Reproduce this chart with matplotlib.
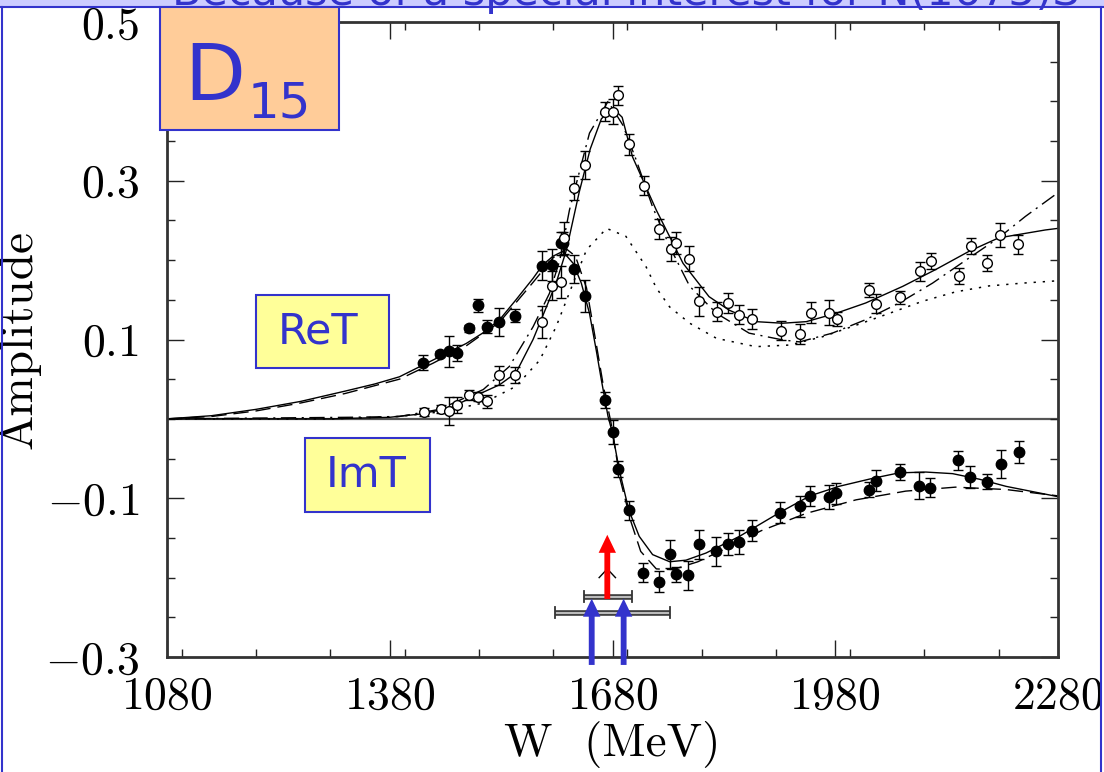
import matplotlib.pyplot as plt
from matplotlib.patches import Rectangle, FancyArrowPatch
from matplotlib.lines import Line2D
from matplotlib.ticker import MultipleLocator, FixedLocator

plt.rcParams['font.family'] = 'cmr10'
plt.rcParams['mathtext.fontset'] = 'cm'
plt.rcParams['axes.formatter.use_mathtext'] = True

# filled circles
w_filled = [1425, 1448, 1460, 1470, 1487, 1499, 1511, 1527, 1549, 1585, 1599, 1611, 1614,
            1628, 1643, 1670, 1680, 1688, 1702, 1721, 1742, 1758, 1765, 1782, 1796, 1820,
            1835, 1851, 1868, 1906, 1932, 1946, 1972, 1981, 2026, 2035, 2067, 2093, 2108,
            2145, 2162, 2185, 2203, 2227]
amp_filled = [0.071, 0.082, 0.085, 0.083, 0.114, 0.143, 0.116, 0.122, 0.130, 0.193, 0.194,
              0.221, 0.221, 0.189, 0.155, 0.024, -0.017, -0.063, -0.115, -0.194, -0.205,
              -0.170, -0.196, -0.197, -0.158, -0.167, -0.158, -0.155, -0.141, -0.118, -0.110,
              -0.097, -0.098, -0.094, -0.089, -0.078, -0.067, -0.084, -0.087, -0.052, -0.073,
              -0.079, -0.057, -0.042]
err_filled = [0.010, 0.004, 0.020, 0.010, 0.004, 0.008, 0.008, 0.018, 0.008, 0.018, 0.020,
              0.015, 0.015, 0.018, 0.020, 0.010, 0.015, 0.010, 0.012, 0.012, 0.013, 0.018,
              0.010, 0.018, 0.018, 0.018, 0.014, 0.015, 0.013, 0.013, 0.013, 0.013, 0.015,
              0.013, 0.009, 0.013, 0.010, 0.017, 0.012, 0.012, 0.014, 0.009, 0.018, 0.014]

# open circles
w_open = [1426, 1449, 1460, 1471, 1487, 1499, 1511, 1527, 1549, 1585, 1599, 1611, 1615,
          1628, 1643, 1670, 1681, 1688, 1702, 1722, 1742, 1759, 1765, 1783, 1796, 1821,
          1836, 1851, 1868, 1907, 1932, 1947, 1972, 1982, 2026, 2035, 2067, 2094, 2109,
          2146, 2163, 2185, 2202, 2226]
amp_open = [0.009, 0.012, 0.010, 0.018, 0.030, 0.028, 0.022, 0.055, 0.055, 0.122, 0.168,
            0.172, 0.228, 0.291, 0.320, 0.387, 0.387, 0.408, 0.346, 0.294, 0.239, 0.214,
            0.222, 0.202, 0.148, 0.135, 0.146, 0.131, 0.126, 0.111, 0.107, 0.134, 0.134,
            0.126, 0.162, 0.145, 0.153, 0.186, 0.199, 0.180, 0.218, 0.196, 0.232, 0.220]
err_open = [0.005, 0.005, 0.018, 0.010, 0.006, 0.006, 0.008, 0.012, 0.010, 0.020, 0.018,
            0.020, 0.020, 0.015, 0.018, 0.012, 0.016, 0.012, 0.013, 0.012, 0.013, 0.015,
            0.014, 0.016, 0.018, 0.012, 0.012, 0.012, 0.013, 0.012, 0.013, 0.013, 0.016,
            0.009, 0.009, 0.012, 0.008, 0.012, 0.010, 0.010, 0.010, 0.010, 0.015, 0.012]

# model curves
w_fit_a1 = [1080, 1140, 1200, 1260, 1320, 1360, 1393, 1438, 1483, 1505, 1528, 1550, 1573,
            1586, 1600, 1613, 1627, 1638, 1649, 1658, 1665, 1674, 1680, 1689, 1702, 1716,
            1734, 1757, 1779, 1806, 1851, 1907, 1946, 1985, 2030, 2066, 2102, 2138, 2174,
            2210, 2280]
fit_a1 = [0.0, 0.004, 0.012, 0.022, 0.035, 0.044, 0.053, 0.074, 0.095, 0.108, 0.125, 0.150,
          0.177, 0.194, 0.205, 0.211, 0.196, 0.171, 0.133, 0.087, 0.049, 0.003, -0.018,
          -0.064, -0.115, -0.148, -0.171, -0.180, -0.178, -0.169, -0.148, -0.117, -0.097,
          -0.085, -0.075, -0.068, -0.067, -0.069, -0.076, -0.085, -0.098]

w_fit_a2 = [1080, 1140, 1200, 1260, 1320, 1393, 1438, 1483, 1528, 1573, 1600, 1618, 1630,
            1645, 1658, 1668, 1678, 1690, 1705, 1718, 1739, 1761, 1795, 1840, 1880, 1941,
            2008, 2075, 2142, 2210, 2280]
fit_a2 = [0.0, 0.003, 0.010, 0.020, 0.032, 0.050, 0.070, 0.092, 0.122, 0.172, 0.203, 0.214,
          0.205, 0.165, 0.095, 0.040, -0.005, -0.075, -0.130, -0.167, -0.189, -0.190, -0.180,
          -0.160, -0.141, -0.119, -0.102, -0.091, -0.086, -0.089, -0.097]

w_fit_b1 = [1080, 1300, 1380, 1420, 1461, 1488, 1528, 1550, 1573, 1591, 1604, 1618, 1635,
            1650, 1665, 1680, 1693, 1707, 1739, 1775, 1810, 1837, 1873, 1909, 1941, 1981,
            2021, 2071, 2115, 2160, 2200, 2263, 2280]
fit_b1 = [0.0, 0.0, 0.002, 0.006, 0.0135, 0.026, 0.043, 0.058, 0.100, 0.141, 0.171, 0.213,
          0.285, 0.340, 0.378, 0.392, 0.380, 0.330, 0.263, 0.196, 0.154, 0.137, 0.1225,
          0.1205, 0.1225, 0.133, 0.146, 0.167, 0.188, 0.211, 0.228, 0.238, 0.240]

w_fit_b2 = [1080, 1326, 1393, 1447, 1506, 1541, 1573, 1595, 1609, 1622, 1649, 1674, 1694,
            1712, 1734, 1757, 1784, 1820, 1864, 1909, 1932, 1976, 2021, 2066, 2111, 2156,
            2200, 2236, 2280]
fit_b2 = [0.0, 0.002, 0.003, 0.012, 0.037, 0.066, 0.116, 0.158, 0.200, 0.263, 0.360, 0.400,
          0.370, 0.326, 0.267, 0.217, 0.167, 0.133, 0.108, 0.0995, 0.097, 0.108, 0.125,
          0.146, 0.171, 0.200, 0.228, 0.255, 0.285]

w_fit_b3 = [1080, 1300, 1393, 1450, 1506, 1550, 1582, 1604, 1627, 1645, 1672, 1698, 1725,
            1739, 1757, 1784, 1820, 1873, 1918, 1963, 2008, 2053, 2097, 2142, 2187, 2232,
            2280]
fit_b3 = [0.0, 0.0, 0.003, 0.009, 0.020, 0.041, 0.074, 0.116, 0.171, 0.213, 0.240, 0.230,
          0.192, 0.165, 0.141, 0.1205, 0.1015, 0.091, 0.093, 0.1035, 0.118, 0.133, 0.148,
          0.160, 0.1675, 0.171, 0.174]

# resonance markers (W ranges and arrow positions)
band_upper = (1642, 1706, -0.224)
band_lower = (1603, 1757, -0.244)
red_arrow_w = 1673
blue_arrow_w = [1652, 1695]

W, H = 1104, 772


def fig_xy(x, y):
    return x / W, 1 - y / H


fig = plt.figure(figsize=(W / 100, H / 100), dpi=100)
ax = fig.add_axes([167 / W, (H - 657) / H, (1058 - 167) / W, (657 - 22) / H])

ax.plot(w_fit_a1, fit_a1, color='k', lw=1.0, zorder=2)
ax.plot(w_fit_a2, fit_a2, color='k', lw=1.0, dashes=(11, 5), zorder=2)
ax.plot(w_fit_b1, fit_b1, color='k', lw=1.0, zorder=2)
ax.plot(w_fit_b2, fit_b2, color='k', lw=1.0, dashes=(11, 4, 1.5, 4), zorder=2)
ax.plot(w_fit_b3, fit_b3, color='k', lw=1.1, dashes=(1.5, 4.5), zorder=2)
ax.axhline(0, color='#555555', lw=1.6, zorder=1)

ax.errorbar(w_filled, amp_filled, yerr=err_filled, fmt='o', color='k', ms=7.5,
            capsize=3.5, elinewidth=1.0, capthick=1.0, zorder=4)
ax.errorbar(w_open, amp_open, yerr=err_open, fmt='o', color='k', mfc='white', mec='k',
            ms=7.0, mew=1.0, capsize=3.5, elinewidth=1.0, capthick=1.0, zorder=4)

ax.set_xlim(1080, 2280)
ax.set_ylim(-0.3, 0.5)
ax.xaxis.set_major_locator(FixedLocator([1080, 1380, 1680, 1980, 2280]))
ax.xaxis.set_minor_locator(MultipleLocator(100))
ax.yaxis.set_major_locator(FixedLocator([-0.3, -0.1, 0.1, 0.3, 0.5]))
ax.yaxis.set_minor_locator(MultipleLocator(0.05))
ax.tick_params(which='both', direction='in', top=True, right=True, width=1.0,
               labelsize=33, color='#222222')
ax.tick_params(which='major', length=12)
ax.tick_params(which='minor', length=6)
ax.tick_params(axis='y', pad=20)
ax.tick_params(axis='x', pad=14)
for sp in ax.spines.values():
    sp.set_linewidth(2.0)
    sp.set_color('#333333')

ax.set_xlabel('W  (MeV)', fontsize=34, labelpad=2)
ax.set_ylabel('Amplitude', fontsize=34, labelpad=3)

# resonance position bars and arrows
for lo, hi, yv in (band_upper, band_lower):
    ax.plot([lo, hi], [yv, yv], color='#333333', lw=4.0, solid_capstyle='butt',
            clip_on=False, zorder=6)
    ax.plot([lo, hi], [yv, yv], color='#bbbbbb', lw=1.6, solid_capstyle='butt',
            clip_on=False, zorder=6)
    for xe in (lo, hi):
        ax.plot([xe, xe], [yv - 0.007, yv + 0.007], color='#333333', lw=1.3,
                clip_on=False, zorder=6)

ax.plot([red_arrow_w - 11, red_arrow_w, red_arrow_w + 11], [-0.200, -0.189, -0.200],
        color='k', lw=1.0, zorder=6)
ax.add_patch(FancyArrowPatch((red_arrow_w, band_upper[2] - 0.003), (red_arrow_w, -0.146),
                             arrowstyle='simple,head_length=1.3,head_width=1.25,tail_width=0.42',
                             mutation_scale=10, color='#ff0000', lw=0, shrinkA=0, shrinkB=0,
                             clip_on=False, zorder=7))
for bw in blue_arrow_w:
    ax.add_patch(FancyArrowPatch((bw, -0.31), (bw, -0.2265),
                                 arrowstyle='simple,head_length=1.3,head_width=1.25,tail_width=0.42',
                                 mutation_scale=10, color='#3333cc', lw=0, shrinkA=0,
                                 shrinkB=0, clip_on=False, zorder=7))

# slide decorations
fig.add_artist(Rectangle((0, 1 - 7 / H), 1, 7 / H, transform=fig.transFigure,
                         fc='#ccccff', ec='none', zorder=8))
fig.add_artist(Line2D([0, 1], [1 - 7 / H] * 2, transform=fig.transFigure,
                      color='#3333cc', lw=1.5, zorder=9))
fig.add_artist(Line2D([1.5 / W, 1.5 / W], [0, 1 - 7 / H], transform=fig.transFigure,
                      color='#3333cc', lw=1.5, zorder=9))
fig.add_artist(Line2D([1101 / W, 1101 / W], [0, 1 - 7 / H], transform=fig.transFigure,
                      color='#3333cc', lw=1.5, zorder=9))
fig.text(*fig_xy(172, 5), 'Because of a special interest for N(1675)S',
         family='DejaVu Sans', fontsize=31, color='#3333cc', va='baseline', zorder=10)


def note_box(x0, y0, x1, y1, face):
    fig.add_artist(Rectangle(fig_xy(x0, y1), (x1 - x0) / W, (y1 - y0) / H,
                             transform=fig.transFigure, fc=face, ec='#3333cc', lw=1.5,
                             zorder=10))


note_box(160, 7, 339, 130, '#ffcc99')
fig.text(*fig_xy(184, 100), 'D', family='DejaVu Sans', fontsize=57, color='#3333cc',
         va='baseline', zorder=11)
fig.text(*fig_xy(248, 118), '15', family='DejaVu Sans', fontsize=36, color='#3333cc',
         va='baseline', zorder=11)

note_box(256, 295, 389, 368, '#ffff99')
fig.text(*fig_xy(318, 331), 'ReT', family='DejaVu Sans', fontsize=31, color='#3333cc',
         ha='center', va='center', zorder=11)
note_box(305, 438, 430, 512, '#ffff99')
fig.text(*fig_xy(366, 475), 'ImT', family='DejaVu Sans', fontsize=31, color='#3333cc',
         ha='center', va='center', zorder=11)

fig.savefig('out.png', dpi=100)
